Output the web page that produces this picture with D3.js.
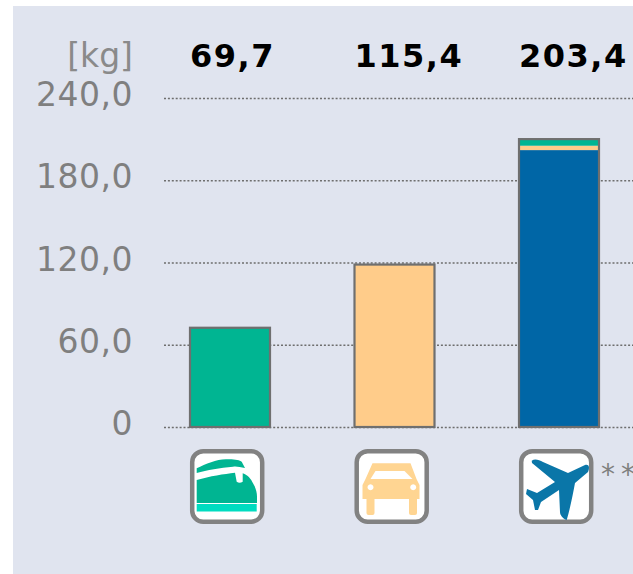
<!DOCTYPE html>
<html><head><meta charset="utf-8">
<script src="https://cdnjs.cloudflare.com/ajax/libs/d3/7.8.5/d3.min.js"></script>
<style>html,body{margin:0;padding:0;background:#fff}svg{display:block}text{font-family:"DejaVu Sans",sans-serif}</style>
</head><body><svg id="c" width="633" height="574"></svg>
<script>
const categories = ["train","car","plane"];
const totalLabels = ["69,7","115,4","203,4"];
const tickValues = [0,60,120,180,240];
const tickLabels = ["0","60,0","120,0","180,0","240,0"];
const unitLabel = "[kg]";
const seriesBlue = [0,0,202];
const seriesOrange = [0,118.5,3.2];
const seriesGreen = [72.4,0,4.8];
const seriesColors = ["#0066a6","#ffcc8a","#00b592"];

const svg = d3.select("#c");
svg.append("rect").attr("x",13).attr("y",6).attr("width",620).attr("height",568).attr("fill","#e0e4ef");

const y = d3.scaleLinear().domain([0,240]).range([427,98]);
const x = d3.scaleBand().domain(categories).range([190,599]).paddingInner(0.5137).paddingOuter(0);
const gridL = 164, gridR = 633;

svg.append("g").selectAll("line").data(tickValues).join("line")
 .attr("x1",gridL).attr("x2",gridR).attr("y1",d=>y(d)+.5).attr("y2",d=>y(d)+.5)
 .attr("stroke","#6e6e6e").attr("stroke-width",1.6).attr("stroke-dasharray","2 1.9");

const axis = d3.axisLeft(y).tickValues(tickValues).tickFormat((d,i)=>tickLabels[i]).tickSize(0).tickPadding(0);
const ga = svg.append("g").attr("transform","translate(133,0)").call(axis);
ga.select(".domain").remove();
ga.selectAll("text").attr("font-size",33).attr("fill","#7f7f7f").attr("font-family",'"DejaVu Sans",sans-serif')
  .attr("letter-spacing",0.5).attr("y",-3).attr("dy","0.32em");

svg.append("text").attr("x",133).attr("y",67).attr("text-anchor","end").attr("font-size",33).attr("fill","#8a8a8a").text(unitLabel);

svg.append("g").selectAll("text").data(categories).join("text")
 .attr("x",d=>x(d)).attr("y",67).attr("font-size",32).attr("letter-spacing",1.5).attr("font-weight","bold").attr("fill","#000")
 .text((d,i)=>totalLabels[i]);

const stack = d3.stack().keys([0,1,2]).value((d,k)=>d[k]);
const rows = categories.map((c,i)=>[seriesBlue[i],seriesOrange[i],seriesGreen[i]]);
const layers = stack(rows);
const gb = svg.append("g");
layers.forEach((layer,k)=>{
 gb.selectAll(null).data(layer).join("rect")
  .attr("x",(d,i)=>x(categories[i])).attr("width",x.bandwidth())
  .attr("y",d=>y(d[1])).attr("height",d=>y(d[0])-y(d[1]))
  .attr("fill",seriesColors[k]);
});
gb.selectAll(null).data(layers[2]).join("rect")
  .attr("x",(d,i)=>x(categories[i])).attr("width",x.bandwidth())
  .attr("y",d=>y(d[1])).attr("height",d=>y(0)-y(d[1]))
  .attr("fill","none").attr("stroke","#6f6f6f").attr("stroke-width",2.2);

// icons
const icons = svg.append("g").selectAll("g").data(categories).join("g")
 .attr("transform",d=>`translate(${x(d)},449)`);
icons.append("rect").attr("x",2.2).attr("y",2.2).attr("width",70).attr("height",70.5).attr("rx",11)
 .attr("fill","#fff").attr("stroke","#828282").attr("stroke-width",4.5);
const art = {
 train: g=>{
  g.append("path").attr("fill","#00b592").attr("d","M6.7 19.3 C16 15 27 10 36.7 10.3 C44 10 50 11 51.7 12.7 L55 19 C50 18 46 17 43 17.7 C30 19 17 21 6.7 24Z");
  g.append("path").attr("fill","#00b592").attr("d","M6.7 31 C20 27 34 25 45 23.7 L46.7 32.7 Q49.5 35 52.7 32.7 L52.7 24.3 C58 26 61 30 63 34.3 C66 39 67 44 67 47.7 L67 54 L6.7 54Z");
  g.append("rect").attr("x",6.7).attr("y",55).attr("width",60).attr("height",7.5).attr("fill","#00dcc0");
 },
 car: g=>{
  g.append("path").attr("fill","#ffd592").attr("fill-rule","evenodd").attr("d","M18 14.3 L56 14.3 L62 30 L65 36 L65 50 L8 50 L8 36 L11 30Z M21 22 L16 30 L58 30 L50 22Z M16 35.3 a3 3 0 1 0 .01 0Z M58.7 35.3 a3 3 0 1 0 .01 0Z");
  g.append("rect").attr("x",12).attr("y",48).attr("width",8).attr("height",18).attr("rx",2).attr("fill","#ffd592");
  g.append("rect").attr("x",54.5).attr("y",48).attr("width",8).attr("height",18).attr("rx",2).attr("fill","#ffd592");
 },
 plane: g=>{
  g.append("path").attr("fill","#0a76a8").attr("d","M12.7 11.7 C16 9.5 20 11 24 13 L49 24 L66 16 C70 15 71 18 69 23 L56 34 C54 45 51 60 47.7 71 C44 70 41 66 41 63 L40 41 L22 53 L19 61 L16 61 L14 51 L7 45 L8 40 L18 44 L36 33 L13 14Z");
 }
};
icons.each(function(d){art[d](d3.select(this));});

svg.append("text").attr("x",601).attr("y",484).attr("font-size",28).attr("letter-spacing",6).attr("fill","#808080").text("**");
</script></body></html>
